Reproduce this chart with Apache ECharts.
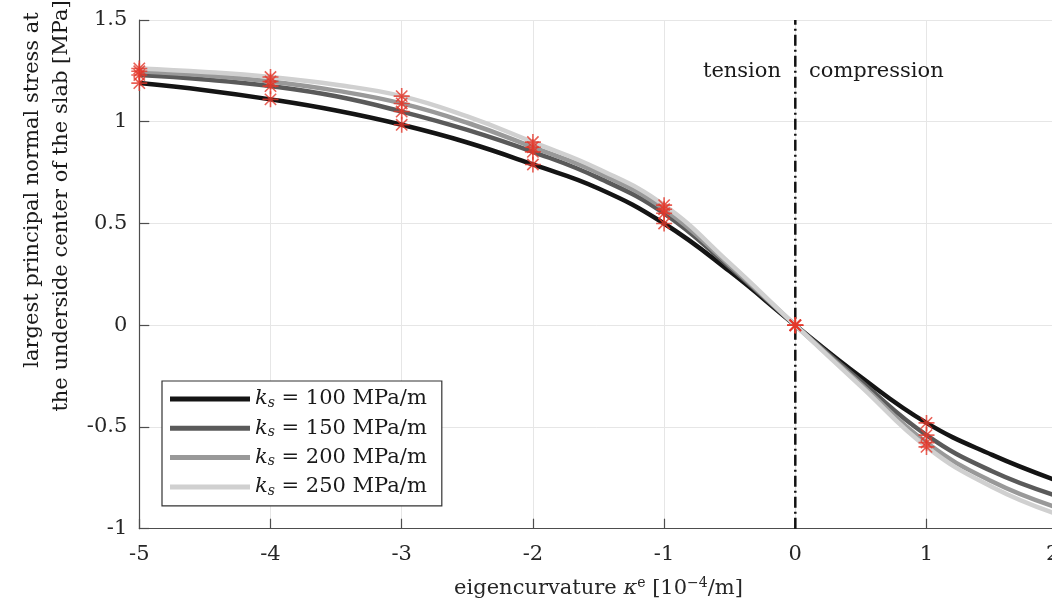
<!DOCTYPE html>
<html>
<head>
<meta charset="utf-8">
<script src="https://cdn.jsdelivr.net/npm/echarts@6/dist/echarts.min.js"></script>
<style>
html,body{margin:0;padding:0;background:#fff;}
#chart{width:1052px;height:608px;}
</style>
</head>
<body>
<div id="chart"></div>
<script>
// ---- data ----
const xValues = [-5, -4.5, -4, -3.5, -3, -2.5, -2, -1.5, -1, -0.5, 0, 0.5, 1, 1.5, 2];
const ks100 = [1.19, 1.155, 1.11, 1.055, 0.985, 0.898, 0.79, 0.672, 0.50, 0.265, 0, -0.255, -0.48, -0.637, -0.765];
const ks150 = [1.23, 1.208, 1.175, 1.125, 1.05, 0.96, 0.852, 0.724, 0.55, 0.285, 0, -0.275, -0.54, -0.718, -0.84];
const ks200 = [1.248, 1.228, 1.198, 1.153, 1.09, 0.995, 0.875, 0.748, 0.57, 0.295, 0, -0.29, -0.577, -0.768, -0.897];
const ks250 = [1.262, 1.245, 1.22, 1.182, 1.126, 1.026, 0.90, 0.768, 0.59, 0.305, 0, -0.30, -0.598, -0.795, -0.93];
const markerX = [-5, -4, -3, -2, -1, 0, 1];
const seriesNames = ['100', '150', '200', '250'];
const separatorX = [0, 0];
const separatorY = [-1, 1.5];
const xTicks = [-5, -4, -3, -2, -1, 0, 1, 2];
const yTicks = [-1, -0.5, 0, 0.5, 1, 1.5];
const regionLabels = ['tension', 'compression'];

const allSeries = [ks100, ks150, ks200, ks250];
const lineColors = ['#141414', '#5a5a5a', '#999999', '#d0d0d0'];
const FONT = 'DejaVu Serif';
const RED = '#e4372b';
const asterisk = 'path://M0,-10L0,10M-10,0L10,0M-7.07,-7.07L7.07,7.07M-7.07,7.07L7.07,-7.07';

const chart = echarts.init(document.getElementById('chart'), null, {renderer: 'canvas'});

const series = [];
allSeries.forEach((vals, i) => {
  series.push({
    name: seriesNames[i],
    type: 'line',
    data: xValues.map((x, j) => [x, vals[j]]),
    smooth: 0.45,
    showSymbol: false,
    symbol: 'none',
    color: lineColors[i],
    lineStyle: {color: lineColors[i], width: 4.5},
    itemStyle: {color: lineColors[i]},
    clip: true,
    z: 3 + i
  });
});
allSeries.forEach((vals, i) => {
  series.push({
    name: 'm' + seriesNames[i],
    type: 'scatter',
    data: xValues.map((x, j) => [x, vals[j]]).filter(p => markerX.includes(p[0])),
    symbol: asterisk,
    symbolSize: 16,
    itemStyle: {color: 'none', borderColor: RED, borderWidth: 1.6},
    clip: false,
    silent: true,
    z: 10
  });
});
series.push({
  name: 'separator',
  type: 'line',
  data: separatorX.map((x, j) => [x, separatorY[j]]),
  showSymbol: false,
  symbol: 'none',
  lineStyle: {color: '#111', width: 2.5, type: [11, 4, 2, 4]},
  z: 2,
  silent: true
});

const option = {
  animation: false,
  backgroundColor: '#fff',
  grid: {left: 139.3, top: 20, width: 918.4, height: 508.7, containLabel: false, outerBoundsMode: 'none'},
  xAxis: {
    type: 'value', min: xTicks[0], max: xTicks[xTicks.length - 1], interval: 1,
    axisLine: {show: true, onZero: false, lineStyle: {color: '#4d4d4d', width: 1.2}},
    axisTick: {show: true, inside: true, length: 10, lineStyle: {color: '#4d4d4d', width: 1.2}},
    splitLine: {show: true, lineStyle: {color: '#e6e6e6', width: 1}},
    axisLabel: {fontFamily: FONT, fontSize: 21, color: '#262626', margin: 15},
    name: 'eigencurvature {i|κ}{sup|e} [10{sup|−4}/m]',
    nameLocation: 'middle',
    nameGap: 48,
    nameTextStyle: {
      fontFamily: FONT, fontSize: 21, color: '#262626',
      rich: {
        i: {fontFamily: FONT, fontSize: 21, fontStyle: 'italic', color: '#262626'},
        sup: {fontFamily: FONT, fontSize: 14, color: '#262626', verticalAlign: 'top', padding: [0, 0, 10, 0]}
      }
    }
  },
  yAxis: {
    type: 'value', min: yTicks[0], max: yTicks[yTicks.length - 1], interval: 0.5,
    axisLine: {show: true, onZero: false, lineStyle: {color: '#4d4d4d', width: 1.2}},
    axisTick: {show: true, inside: true, length: 10, lineStyle: {color: '#4d4d4d', width: 1.2}},
    splitLine: {show: true, lineStyle: {color: '#e6e6e6', width: 1}},
    axisLabel: {fontFamily: FONT, fontSize: 21, color: '#262626', margin: 12}
  },
  legend: {
    data: seriesNames,
    orient: 'vertical',
    left: 162,
    top: 381,
    padding: [7, 15, 8, 8],
    itemGap: 7.3,
    itemWidth: 80,
    itemHeight: 5,
    icon: 'rect',
    borderColor: '#333',
    borderWidth: 1.2,
    borderRadius: 0,
    backgroundColor: '#fff',
    z: 20,
    formatter: name => '{k|k}{s|s} = ' + name + ' MPa/m',
    textStyle: {
      fontFamily: FONT, fontSize: 21, color: '#1a1a1a', lineHeight: 22,
      rich: {
        k: {fontFamily: FONT, fontSize: 21, fontStyle: 'italic', color: '#1a1a1a'},
        s: {fontFamily: FONT, fontSize: 14, fontStyle: 'italic', color: '#1a1a1a', verticalAlign: 'bottom', padding: [8, 0, 0, 0]}
      }
    }
  },
  graphic: [
    {id: 'tension', type: 'text', x: 781, y: 72, style: {text: regionLabels[0], font: '21px "DejaVu Serif"', fill: '#1a1a1a', textAlign: 'right', textVerticalAlign: 'middle'}, z: 30},
    {id: 'compression', type: 'text', x: 809, y: 72, style: {text: regionLabels[1], font: '21px "DejaVu Serif"', fill: '#1a1a1a', textAlign: 'left', textVerticalAlign: 'middle'}, z: 30},
    {id: 'ytitle1', type: 'text', x: 33, y: 190, rotation: Math.PI / 2, style: {text: 'largest principal normal stress at', font: '21px "DejaVu Serif"', fill: '#1a1a1a', textAlign: 'center', textVerticalAlign: 'middle'}},
    {id: 'ytitle2', type: 'text', x: 62, y: 206, rotation: Math.PI / 2, style: {text: 'the underside center of the slab [MPa]', font: '21px "DejaVu Serif"', fill: '#1a1a1a', textAlign: 'center', textVerticalAlign: 'middle'}}
  ],
  series: series
};
chart.setOption(option);

// the last tick label (partly outside the canvas) is dropped by ECharts; draw it near its tick, partly cut as in the reference
const lastTick = xTicks[xTicks.length - 1];
const tickPx = chart.convertToPixel({gridIndex: 0}, [lastTick, yTicks[0]]);
chart.setOption({
  graphic: [
    {id: 'lastTickLabel', type: 'text', x: tickPx[0] - 5, y: tickPx[1] + 15, style: {text: String(lastTick), font: '21px "DejaVu Serif"', fill: '#262626', textAlign: 'center', textVerticalAlign: 'top'}}
  ]
});
</script>
</body>
</html>
